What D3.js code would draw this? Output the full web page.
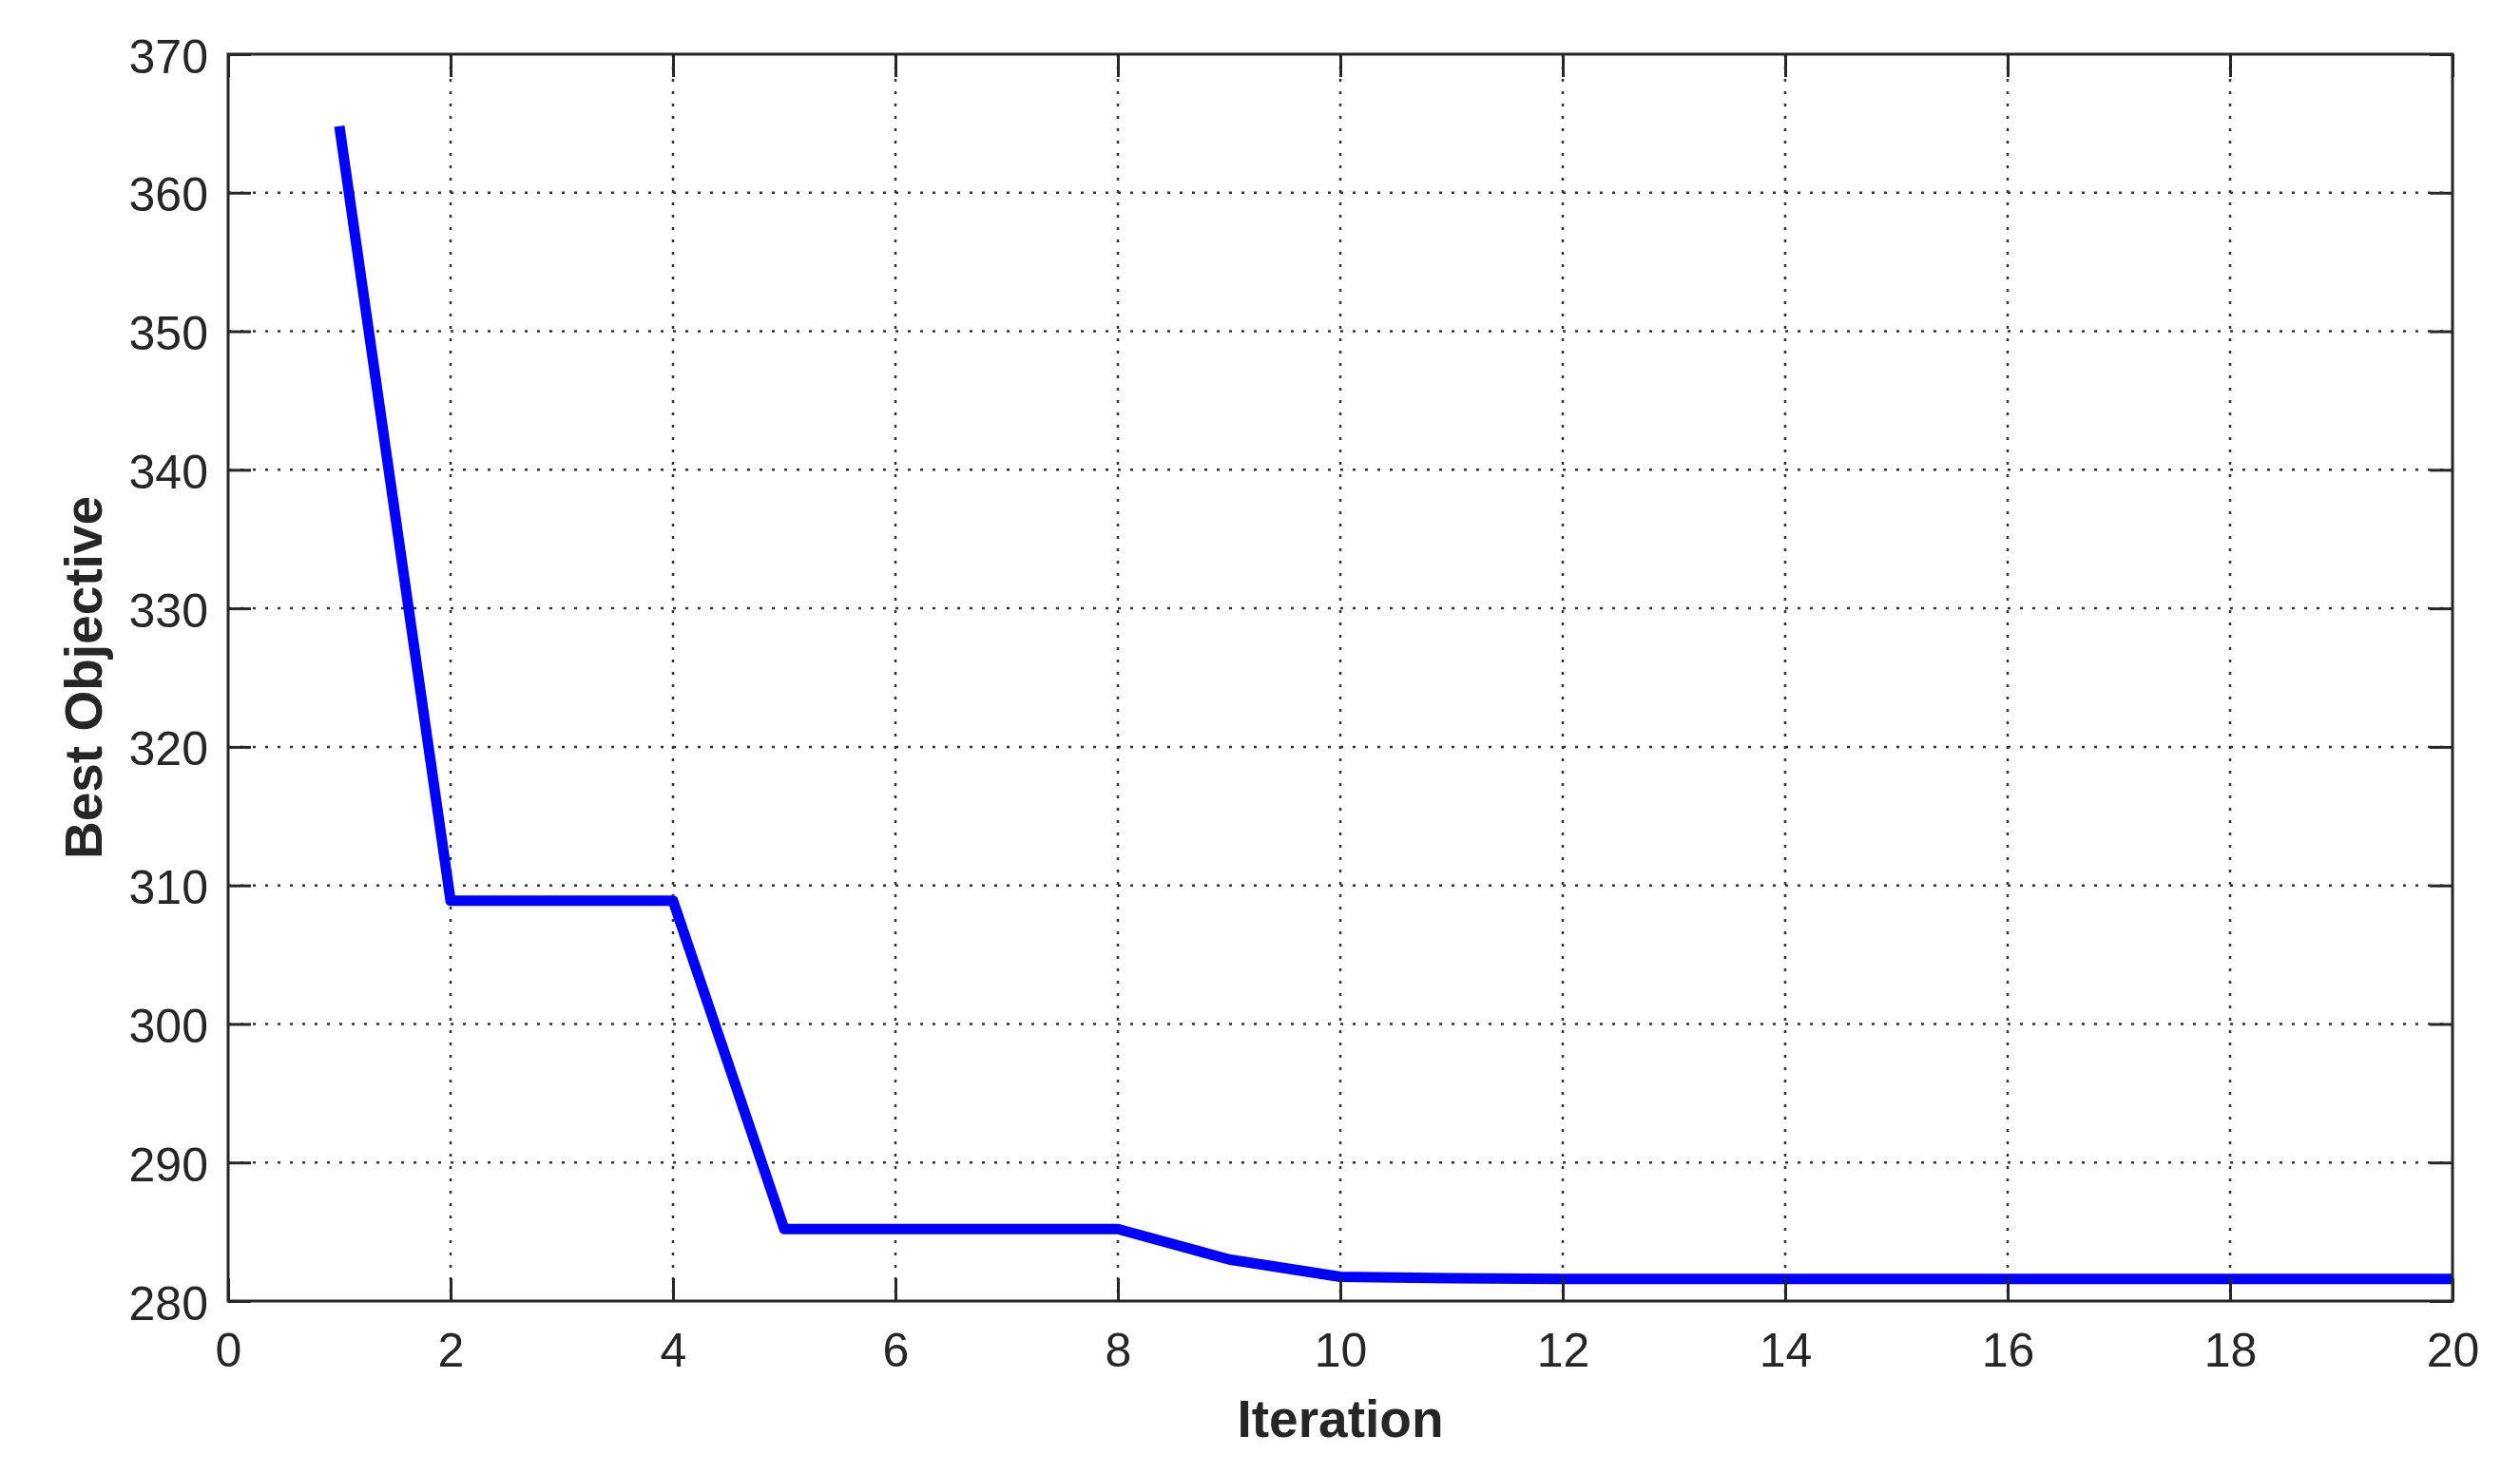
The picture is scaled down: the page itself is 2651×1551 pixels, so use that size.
<!DOCTYPE html>
<html>
<head>
<meta charset="utf-8">
<script src="https://cdn.jsdelivr.net/npm/d3@7"></script>
<style>
  html, body { margin: 0; padding: 0; background: #ffffff; }
  svg { display: block; }
</style>
</head>
<body>
<script>
// ---- data ----
const iterations = [1,2,3,4,5,6,7,8,9,10,11,12,13,14,15,16,17,18,19,20];
const bestObjective = [364.8,308.9,308.9,308.9,285.2,285.2,285.2,285.2,283.0,281.75,281.65,281.6,281.6,281.6,281.6,281.6,281.6,281.6,281.6,281.6];
const xTicks = [0,2,4,6,8,10,12,14,16,18,20];
const yTicks = [280,290,300,310,320,330,340,350,360,370];
const xLabel = "Iteration";
const yLabel = "Best Objective";

// ---- layout ----
const W = 2651, H = 1551;
const L = 240, R = 2580, T = 57, B = 1369;
const ink = "#262626";

const svg = d3.select("body").append("svg").attr("width", W).attr("height", H);
svg.append("rect").attr("width", W).attr("height", H).attr("fill", "#fff");

const x = d3.scaleLinear().domain([0, 20]).range([L, R]);
const y = d3.scaleLinear().domain([280, 370]).range([B, T]);

// grid
const grid = svg.append("g");
grid.selectAll("line.gx").data(xTicks.slice(1, -1)).join("line")
  .attr("x1", d => x(d)).attr("x2", d => x(d)).attr("y1", T).attr("y2", B)
  .attr("stroke", "#333").attr("stroke-width", 2.5).attr("stroke-dasharray", "3,10");
grid.selectAll("line.gy").data(yTicks.slice(1, -1)).join("line")
  .attr("y1", d => y(d)).attr("y2", d => y(d)).attr("x1", L).attr("x2", R)
  .attr("stroke", "#333").attr("stroke-width", 2.5).attr("stroke-dasharray", "3,10");

// data line
const line = d3.line().x((d, i) => x(iterations[i])).y(d => y(d));
svg.append("path").datum(bestObjective)
  .attr("d", line)
  .attr("fill", "none").attr("stroke", "#0000ff").attr("stroke-width", 11)
  .attr("stroke-linejoin", "round").attr("stroke-linecap", "butt");

// axes (ticks inside, box on)
const tickLen = 24;
function styleAxis(g) {
  g.select(".domain").remove();
  g.selectAll(".tick line").attr("stroke", ink).attr("stroke-width", 3);
  g.selectAll(".tick text").attr("fill", ink)
    .style("font-family", "'Liberation Sans', Arial, sans-serif").style("font-size", "50px");
}
svg.append("g").attr("transform", `translate(0,${B})`)
  .call(d3.axisBottom(x).tickValues(xTicks).tickSizeInner(-tickLen).tickSizeOuter(0).tickPadding(0).tickFormat(d3.format("d")))
  .call(styleAxis)
  .call(g => g.selectAll(".tick text").attr("y", 69).attr("dy", null));
svg.append("g").attr("transform", `translate(0,${T})`)
  .call(d3.axisTop(x).tickValues(xTicks).tickSizeInner(-tickLen).tickSizeOuter(0).tickFormat(""))
  .call(styleAxis);
svg.append("g").attr("transform", `translate(${L},0)`)
  .call(d3.axisLeft(y).tickValues(yTicks).tickSizeInner(-tickLen).tickSizeOuter(0).tickFormat(d3.format("d")))
  .call(styleAxis)
  .call(g => g.selectAll(".tick text").attr("x", -21).attr("dy", "0.38em"));
svg.append("g").attr("transform", `translate(${R},0)`)
  .call(d3.axisRight(y).tickValues(yTicks).tickSizeInner(-tickLen).tickSizeOuter(0).tickFormat(""))
  .call(styleAxis);

// box
svg.append("rect").attr("x", L).attr("y", T).attr("width", R - L).attr("height", B - T)
  .attr("fill", "none").attr("stroke", ink).attr("stroke-width", 3);

// labels
svg.append("text").text(xLabel)
  .attr("x", (L + R) / 2).attr("y", 1512).attr("text-anchor", "middle")
  .attr("fill", ink).style("font-family", "'Liberation Sans', Arial, sans-serif")
  .style("font-size", "55px").style("font-weight", "bold");
svg.append("text").text(yLabel)
  .attr("transform", `translate(107,${(T + B) / 2}) rotate(-90)`).attr("text-anchor", "middle")
  .attr("fill", ink).style("font-family", "'Liberation Sans', Arial, sans-serif")
  .style("font-size", "55px").style("font-weight", "bold");
</script>
</body>
</html>
